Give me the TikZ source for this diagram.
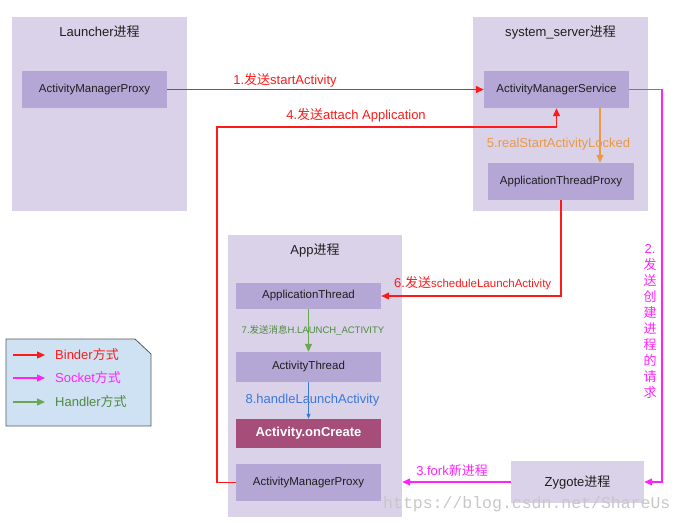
\documentclass[tikz,border=0pt]{standalone}
\usepackage{fontspec}
\setmainfont{Liberation Sans}
\newfontfamily\cjk{Noto Sans CJK SC}
\newfontfamily\wmfont{Liberation Mono}
\usetikzlibrary{arrows.meta}
\newcommand\zh[1]{{\cjk #1}}
\definecolor{procfill}{HTML}{D9D2E9}
\definecolor{boxfill}{HTML}{B4A7D6}
\definecolor{oncreate}{HTML}{A64D79}
\definecolor{cred}{HTML}{FF1A1A}
\definecolor{cmag}{HTML}{FF22FF}
\definecolor{corange}{HTML}{EA9A45}
\definecolor{cgreen}{HTML}{6AA84F}
\definecolor{cgreentext}{HTML}{4E8A3E}
\definecolor{cblue}{HTML}{3C78D8}
\definecolor{legfill}{HTML}{CFE2F3}
\definecolor{txt}{HTML}{1E1E1E}
\begin{document}
\begin{tikzpicture}[x=1pt,y=-1pt,
  proc/.style={fill=procfill,draw=none,inner sep=0pt},
  ibox/.style={fill=boxfill,draw=none,inner sep=0pt,minimum width=145pt,text=txt,font=\fontsize{11.5}{13}\selectfont},
  ttl/.style={text=txt,font=\fontsize{13}{15}\selectfont,inner sep=0pt},
  lbl/.style={font=\fontsize{13}{15}\selectfont,inner sep=0pt},
  tip/.style={-{Triangle[length=8pt,width=7pt]}},
  conn/.style={line width=1.2pt,tip},
]
\useasboundingbox (0,0) rectangle (684,522);
% process containers
\node[proc,minimum width=175pt,minimum height=194pt] (launcher) at (99.5,114) {};
\node[proc,minimum width=175pt,minimum height=194pt] (sysserver) at (560.5,114) {};
\node[proc,minimum width=174pt,minimum height=282pt] (app) at (315,376) {};
\node[ttl] (tl) at (99.5,32) {Launcher\zh{进程}};
\node[ttl] (ts) at (560.5,32) {system\_server\zh{进程}};
\node[ttl] (ta) at (315,250) {App\zh{进程}};
% inner boxes
\node[ibox,minimum height=37pt] (lamp) at (94.5,89.5) {ActivityManagerProxy};
\node[ibox,minimum height=37pt] (ams) at (556.5,89.5) {ActivityManagerService};
\node[ibox,minimum width=146pt,minimum height=37pt] (atp) at (561,181.5) {ApplicationThreadProxy};
\node[ibox,minimum height=26pt] (at) at (308.5,296) {ApplicationThread};
\node[ibox,minimum height=30pt] (actt) at (308.5,367) {ActivityThread};
\node[ibox,fill=oncreate,minimum height=29pt,text=white,font=\fontsize{13}{15}\selectfont\bfseries] (onc) at (308.5,433.5) {Activity.onCreate};
\node[ibox,minimum height=37pt] (aamp) at (308.5,482.5) {ActivityManagerProxy};
\node[proc,minimum width=133pt,minimum height=42pt,text=txt,font=\fontsize{13}{15}\selectfont] (zyg) at (577.5,482) {Zygote\zh{进程}};
% connectors
\draw[conn,cred] (lamp.east) -- (ams.west);
\coordinate (c4) at (217,127);
\draw[conn,cred] (aamp.west) -| (c4) -| (ams.south);
\draw[conn,corange] ([xshift=43.5pt]ams.south) -- ([xshift=39pt]atp.north);
\draw[conn,cred] (atp.south) |- (at.east);
\draw[conn,cgreen] (at.south) -- (actt.north);
\draw[line width=0.8pt,cblue,-{Triangle[length=5pt,width=4pt]}] (actt.south) -- (onc.north);
\coordinate (m2) at (662,89.5);
\draw[conn,cmag] (ams.east) -- (m2) |- (zyg.east);
\draw[conn,cmag] (zyg.west) -- (zyg.west -| app.east);
% labels
\node[lbl,text=cred] (l1) at (285,80) {1.\zh{发送}startActivity};
\node[lbl,text=cred] (l4) at (356,115) {4.\zh{发送}attach Application};
\node[lbl,text=corange] (l5) at (558.5,144) {5.realStartActivityLocked};
\node[lbl,text=cred,anchor=west] (l6) at (394,283) {6.\zh{发送}{\fontsize{11.5}{13}\selectfont scheduleLaunchActivity}};
\node[inner sep=0pt,text=cgreentext,font=\fontsize{9.5}{11}\selectfont] (l7) at (313,330) {7.\zh{发送消息}H.LAUNCH\_ACTIVITY};
\node[lbl,text=cblue] (l8) at (312.5,400) {8.handleLaunchActivity};
\node[lbl,text=cmag] (l3) at (452,471) {3.fork\zh{新进程}};
\node[lbl,text=cmag,align=center,font=\fontsize{13}{15.9}\selectfont] (l2) at (650,321.5) {2.\\\zh{发}\\\zh{送}\\\zh{创}\\\zh{建}\\\zh{进}\\\zh{程}\\\zh{的}\\\zh{请}\\\zh{求}};
% legend
\draw[fill=legfill,draw=black!65,line width=0.8pt] (6,339) -- (135,339) -- (151,354) -- (151,426) -- (6,426) -- cycle;
\coordinate (ga1) at (13,355); \coordinate (gb1) at (45,355);
\coordinate (ga2) at (13,378); \coordinate (gb2) at (45,378);
\coordinate (ga3) at (13,402); \coordinate (gb3) at (45,402);
\draw[conn,cred] (ga1) -- (gb1);
\draw[conn,cmag] (ga2) -- (gb2);
\draw[conn,cgreen] (ga3) -- (gb3);
\node[lbl,anchor=west,text=cred] (g1) at (55,355) {Binder\zh{方式}};
\node[lbl,anchor=west,text=cmag] (g2) at (55,378) {Socket\zh{方式}};
\node[lbl,anchor=west,text=cgreentext] (g3) at (55,402) {Handler\zh{方式}};
% watermark
\node[anchor=base west,inner sep=0pt,text=black!22,font=\wmfont\fontsize{16.5}{18}\selectfont] (wm) at (383,508) {https://blog.csdn.net/ShareUs};
\end{tikzpicture}
\end{document}
